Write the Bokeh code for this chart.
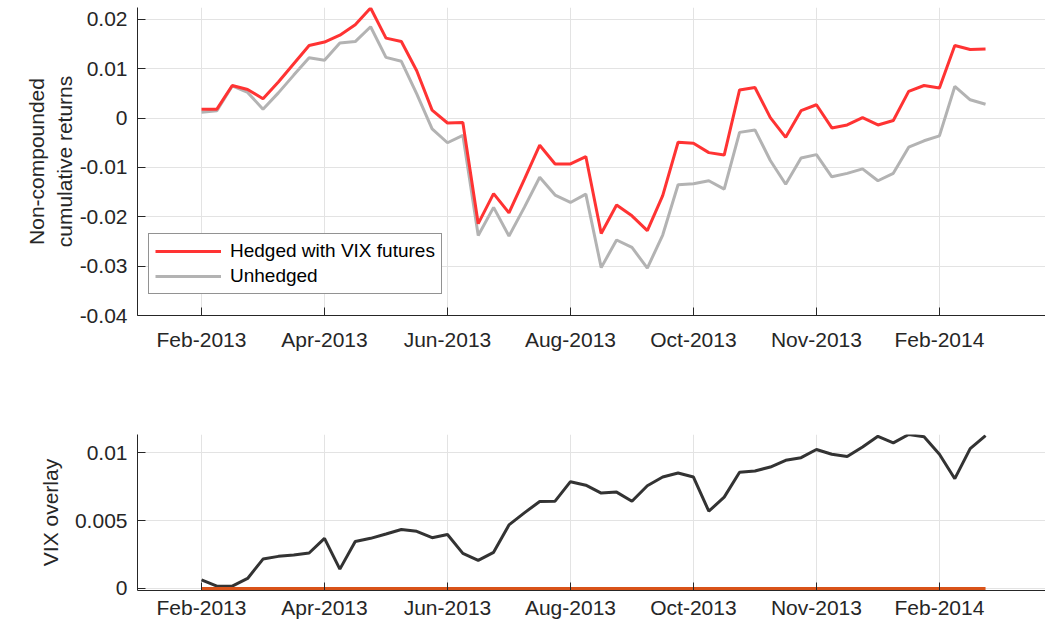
from bokeh.plotting import figure
from bokeh.models import Range1d, FixedTicker, PrintfTickFormatter, Legend, LegendItem
from bokeh.layouts import column
from bokeh.embed import file_html
from bokeh.resources import INLINE

# ---- data ----
week = list(range(1, 53))
tick_pos = [1, 9, 17, 25, 33, 41, 49]
tick_labels = ["Feb-2013", "Apr-2013", "Jun-2013", "Aug-2013", "Oct-2013", "Nov-2013", "Feb-2014"]

hedged = [0.0018, 0.0018, 0.0066, 0.0058, 0.0039, 0.0073, 0.0110, 0.0147, 0.0154, 0.0168,
          0.0189, 0.0223, 0.0162, 0.0155, 0.0096, 0.0016, -0.0010, -0.0009, -0.0214, -0.0153,
          -0.0192, -0.0124, -0.0055, -0.0093, -0.0093, -0.0078, -0.0234, -0.0176, -0.0198, -0.0228,
          -0.0157, -0.0049, -0.0051, -0.0070, -0.0075, 0.0057, 0.0062, 0.0001, -0.0039, 0.0015,
          0.0027, -0.0020, -0.0014, 0.0001, -0.0014, -0.0005, 0.0054, 0.0066, 0.0061, 0.0147,
          0.0139, 0.0140]
unhedged = [0.0012, 0.0015, 0.0065, 0.0052, 0.0018, 0.0051, 0.0087, 0.0122, 0.0117, 0.0152,
            0.0155, 0.0185, 0.0123, 0.0115, 0.0049, -0.0022, -0.0050, -0.0035, -0.0238, -0.0181,
            -0.0239, -0.0181, -0.0120, -0.0156, -0.0171, -0.0154, -0.0303, -0.0247, -0.0262, -0.0304,
            -0.0237, -0.0135, -0.0133, -0.0127, -0.0144, -0.0029, -0.0024, -0.0086, -0.0134, -0.0081,
            -0.0074, -0.0119, -0.0112, -0.0103, -0.0127, -0.0112, -0.0059, -0.0046, -0.0036, 0.0064,
            0.0037, 0.0028]
vix_overlay = [0.00064, 0.00017, 0.00017, 0.00074, 0.00217, 0.00237, 0.00247, 0.00262, 0.00370, 0.00143,
               0.00346, 0.00370, 0.00402, 0.00435, 0.00422, 0.00375, 0.00398, 0.00259, 0.00207, 0.00267,
               0.00469, 0.00558, 0.00642, 0.00644, 0.00788, 0.00762, 0.00704, 0.00711, 0.00644, 0.00758,
               0.00822, 0.00852, 0.00822, 0.00570, 0.00674, 0.00857, 0.00867, 0.00896, 0.00946, 0.00965,
               0.01025, 0.00990, 0.00973, 0.01044, 0.01123, 0.01074, 0.01136, 0.01119, 0.00990, 0.00810,
               0.01032, 0.01128]
zero_line = [0.0] * 52

top_yticks = [-0.04, -0.03, -0.02, -0.01, 0, 0.01, 0.02]
bot_yticks = [0, 0.005, 0.01]

FONT = "Liberation Sans"
TXT = "#262626"
GRID = "#E3E3E3"
X_RANGE = (-3.163, 55.9)


def style(p, yticks, ylabel):
    p.outline_line_color = None
    p.background_fill_color = "white"
    p.border_fill_color = "white"
    p.xaxis.ticker = FixedTicker(ticks=tick_pos)
    p.xaxis.major_label_overrides = {t: l for t, l in zip(tick_pos, tick_labels)}
    p.yaxis.ticker = FixedTicker(ticks=yticks)
    p.yaxis.formatter = PrintfTickFormatter(format="%g")
    for ax in (p.xaxis[0], p.yaxis[0]):
        ax.axis_line_color = TXT
        ax.axis_line_width = 1
        ax.major_tick_line_color = TXT
        ax.major_tick_in = 8
        ax.major_tick_out = 0
        ax.minor_tick_line_color = None
        ax.major_label_text_font = FONT
        ax.major_label_text_font_size = "21px"
        ax.major_label_text_color = TXT
        ax.axis_label_text_font = FONT
        ax.axis_label_text_font_size = "21px"
        ax.axis_label_text_font_style = "normal"
        ax.axis_label_text_color = TXT
    p.yaxis.major_label_standoff = 10
    p.yaxis.axis_label = ylabel
    p.xgrid.ticker = FixedTicker(ticks=tick_pos)
    p.ygrid.ticker = FixedTicker(ticks=yticks)
    p.xgrid.grid_line_color = GRID
    p.ygrid.grid_line_color = GRID
    p.xgrid.grid_line_width = 1
    p.ygrid.grid_line_width = 1


p1 = figure(width=1045, height=388, output_backend="svg", toolbar_location=None,
            x_range=Range1d(*X_RANGE), y_range=Range1d(-0.04, 0.0224),
            min_border_left=137, min_border_right=0, min_border_top=7, min_border_bottom=73)
style(p1, top_yticks, "Non-compounded\ncumulative returns")
p1.xaxis.major_label_standoff = 12
p1.yaxis.axis_label_standoff = 1

r_h = p1.line(week, hedged, line_color="#FF3333", line_width=3)
r_u = p1.line(week, unhedged, line_color="#B3B3B3", line_width=3)
p1.renderers = [r_u, r_h]

legend = Legend(items=[LegendItem(label="Hedged with VIX futures", renderers=[r_h]),
                       LegendItem(label="Unhedged", renderers=[r_u])],
                location=(11, 21), orientation="vertical",
                label_text_font=FONT, label_text_font_size="19px", label_text_color="#000000",
                glyph_width=66, glyph_height=22, label_height=22, label_standoff=9,
                padding=6, spacing=3, margin=0,
                border_line_color=TXT, border_line_width=1, background_fill_alpha=1)
p1.add_layout(legend, "center")

p2 = figure(width=1045, height=238, output_backend="svg", toolbar_location=None,
            x_range=Range1d(*X_RANGE), y_range=Range1d(-0.000148, 0.01136),
            min_border_left=137, min_border_right=0, min_border_top=46, min_border_bottom=36)
style(p2, bot_yticks, "VIX overlay")
p2.xaxis.major_label_standoff = 5
p2.yaxis.axis_label_standoff = 10
p2.line(week, vix_overlay, line_color="#333333", line_width=3)
p2.line(week, zero_line, line_color="#D95319", line_width=3)

layout = column(p1, p2, spacing=0)
open("out.html", "w").write(file_html(layout, INLINE))
